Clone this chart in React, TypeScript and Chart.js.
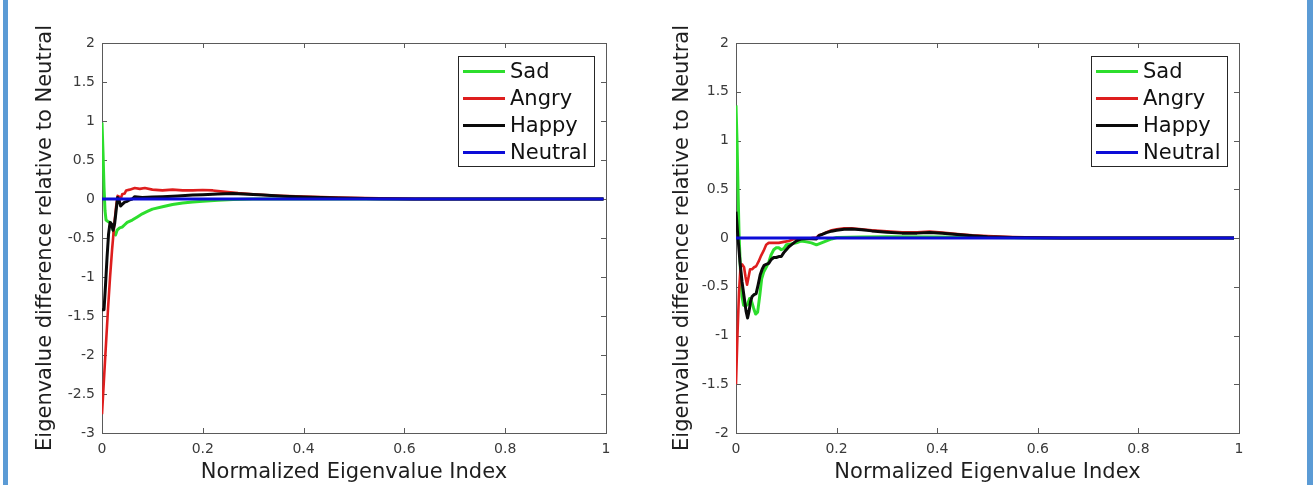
import React, { useEffect, useRef } from 'react';
import { Chart, registerables } from 'chart.js';

Chart.register(...registerables);

// ---------- data ----------
const seriesLabels = ['Sad', 'Angry', 'Happy', 'Neutral'];
const seriesColors = ['rgb(45,222,45)', 'rgb(222,30,30)', '#0a0a0a', 'rgb(12,12,215)'];
const seriesWidths = [3, 2.6, 3, 3.2];

const xAxisTitle = 'Normalized Eigenvalue Index';
const yAxisTitle = 'Eigenvalue difference relative to Neutral';

const leftYRange = [-3, 2];
const rightYRange = [-2, 2];
const xRange = [0, 1];
const xStep = 0.2;
const yStep = 0.5;

const leftSad: [number, number][] = [
  [0, 0.98], [0.002, 0.6], [0.004, 0.15], [0.006, -0.15], [0.008, -0.27], [0.012, -0.29],
  [0.016, -0.3], [0.02, -0.35], [0.024, -0.44], [0.027, -0.46], [0.03, -0.4], [0.035, -0.37],
  [0.04, -0.36], [0.045, -0.33], [0.05, -0.3], [0.06, -0.27], [0.07, -0.23], [0.08, -0.19],
  [0.09, -0.16], [0.1, -0.13], [0.12, -0.1], [0.14, -0.07], [0.16, -0.05], [0.18, -0.04],
  [0.2, -0.03], [0.23, -0.015], [0.26, -0.005], [0.3, 0], [0.5, 0], [0.995, 0],
];
const leftAngry: [number, number][] = [
  [0, -2.76], [0.004, -2.3], [0.008, -1.85], [0.012, -1.4], [0.016, -1.0], [0.02, -0.65],
  [0.024, -0.35], [0.028, -0.1], [0.031, 0.04], [0.034, 0.03], [0.037, 0.0], [0.04, 0.06],
  [0.045, 0.07], [0.048, 0.11], [0.055, 0.12], [0.065, 0.14], [0.075, 0.13], [0.085, 0.14],
  [0.1, 0.12], [0.12, 0.11], [0.14, 0.12], [0.16, 0.11], [0.18, 0.11], [0.2, 0.115],
  [0.22, 0.11], [0.24, 0.095], [0.27, 0.075], [0.3, 0.06], [0.34, 0.045], [0.4, 0.03],
  [0.47, 0.02], [0.55, 0.008], [0.62, 0.002], [0.7, 0], [0.995, 0],
];
const leftHappy: [number, number][] = [
  [0, -1.42], [0.004, -1.42], [0.007, -1.1], [0.01, -0.75], [0.013, -0.45], [0.016, -0.3],
  [0.019, -0.32], [0.022, -0.4], [0.025, -0.32], [0.028, -0.15], [0.031, 0.02], [0.034, -0.02],
  [0.037, -0.09], [0.04, -0.07], [0.045, -0.04], [0.05, -0.03], [0.055, -0.01], [0.06, 0.0],
  [0.065, 0.03], [0.08, 0.02], [0.1, 0.025], [0.12, 0.03], [0.15, 0.04], [0.18, 0.05],
  [0.2, 0.055], [0.23, 0.065], [0.26, 0.07], [0.29, 0.06], [0.32, 0.05], [0.36, 0.035],
  [0.4, 0.025], [0.47, 0.012], [0.55, 0.004], [0.62, 0], [0.995, 0],
];
const leftNeutral: [number, number][] = [[0, 0], [0.995, 0]];

const rightSad: [number, number][] = [
  [0, 1.36], [0.002, 1.0], [0.004, 0.5], [0.006, 0.05], [0.009, -0.35], [0.012, -0.6],
  [0.015, -0.69], [0.019, -0.7], [0.023, -0.68], [0.027, -0.62], [0.031, -0.65], [0.035, -0.72],
  [0.039, -0.78], [0.043, -0.76], [0.047, -0.6], [0.051, -0.42], [0.055, -0.35], [0.06, -0.3],
  [0.065, -0.25], [0.07, -0.17], [0.075, -0.12], [0.08, -0.1], [0.085, -0.1], [0.09, -0.12],
  [0.095, -0.11], [0.1, -0.07], [0.11, -0.06], [0.12, -0.05], [0.13, -0.03], [0.14, -0.04],
  [0.15, -0.05], [0.16, -0.07], [0.17, -0.05], [0.18, -0.03], [0.19, -0.01], [0.2, 0.005],
  [0.25, 0.01], [0.3, 0.012], [0.4, 0.01], [0.5, 0.004], [0.6, 0], [0.99, 0],
];
const rightAngry: [number, number][] = [
  [0, -1.5], [0.003, -0.98], [0.006, -0.55], [0.009, -0.3], [0.012, -0.27], [0.016, -0.3],
  [0.019, -0.4], [0.022, -0.48], [0.025, -0.4], [0.028, -0.32], [0.032, -0.32], [0.036, -0.3],
  [0.04, -0.29], [0.045, -0.24], [0.05, -0.18], [0.055, -0.13], [0.06, -0.07], [0.065, -0.05],
  [0.075, -0.05], [0.085, -0.05], [0.095, -0.04], [0.105, -0.03], [0.115, -0.01], [0.13, -0.005],
  [0.15, 0.0], [0.16, 0.005], [0.165, 0.03], [0.17, 0.035], [0.18, 0.06], [0.19, 0.08],
  [0.2, 0.09], [0.215, 0.1], [0.23, 0.1], [0.25, 0.09], [0.27, 0.08], [0.3, 0.068],
  [0.33, 0.058], [0.36, 0.058], [0.385, 0.065], [0.41, 0.055], [0.44, 0.04], [0.47, 0.028],
  [0.5, 0.02], [0.55, 0.01], [0.6, 0.004], [0.65, 0], [0.99, 0],
];
const rightHappy: [number, number][] = [
  [0, 0.27], [0.004, 0.0], [0.008, -0.25], [0.012, -0.45], [0.016, -0.6], [0.02, -0.75],
  [0.023, -0.82], [0.026, -0.75], [0.029, -0.65], [0.032, -0.6], [0.036, -0.58], [0.04, -0.57],
  [0.044, -0.48], [0.048, -0.38], [0.052, -0.32], [0.056, -0.28], [0.06, -0.27], [0.065, -0.26],
  [0.07, -0.22], [0.075, -0.2], [0.08, -0.2], [0.085, -0.19], [0.09, -0.19], [0.095, -0.15],
  [0.1, -0.12], [0.105, -0.09], [0.11, -0.07], [0.115, -0.05], [0.12, -0.03], [0.13, -0.01],
  [0.14, -0.005], [0.15, -0.008], [0.16, -0.01], [0.165, 0.025], [0.17, 0.035], [0.18, 0.055],
  [0.19, 0.07], [0.2, 0.08], [0.215, 0.09], [0.23, 0.092], [0.25, 0.085], [0.27, 0.073],
  [0.3, 0.06], [0.33, 0.05], [0.36, 0.05], [0.385, 0.057], [0.41, 0.048], [0.44, 0.035],
  [0.47, 0.024], [0.5, 0.013], [0.55, 0.006], [0.6, 0.002], [0.65, 0], [0.99, 0],
];
const rightNeutral: [number, number][] = [[0, 0], [0.99, 0]];

// ---------- styling ----------
const FONT = '"DejaVu Sans", sans-serif';
const AXIS_COLOR = '#5a5a5a';
const TICK_LABEL_COLOR = '#3a3a3a';

const fmt = (v: number) => String(Math.round(v * 10) / 10);

const boxPlugin = {
  id: 'matlabBox',
  beforeDatasetsDraw(chart: any) {
    const { ctx, chartArea: ca } = chart;
    ctx.save();
    ctx.strokeStyle = AXIS_COLOR;
    ctx.lineWidth = 1;
    ctx.strokeRect(Math.round(ca.left) + 0.5, Math.round(ca.top) + 0.5,
      Math.round(ca.right - ca.left), Math.round(ca.bottom - ca.top));
    const tl = 5;
    ctx.beginPath();
    chart.scales.x.ticks.forEach((t: any) => {
      const px = Math.round(chart.scales.x.getPixelForValue(t.value)) + 0.5;
      ctx.moveTo(px, ca.bottom); ctx.lineTo(px, ca.bottom - tl);
      ctx.moveTo(px, ca.top); ctx.lineTo(px, ca.top + tl);
    });
    chart.scales.y.ticks.forEach((t: any) => {
      const py = Math.round(chart.scales.y.getPixelForValue(t.value)) + 0.5;
      ctx.moveTo(ca.left, py); ctx.lineTo(ca.left + tl, py);
      ctx.moveTo(ca.right, py); ctx.lineTo(ca.right - tl, py);
    });
    ctx.stroke();
    ctx.restore();
  },
};

const legendPlugin = {
  id: 'matlabLegend',
  afterDraw(chart: any) {
    const { ctx, chartArea: ca } = chart;
    const w = 136, h = 110;
    const x = Math.round(ca.right - 12 - w);
    const y = Math.round(ca.top + 13);
    ctx.save();
    ctx.fillStyle = '#ffffff';
    ctx.fillRect(x, y, w, h);
    ctx.strokeStyle = '#262626';
    ctx.lineWidth = 1;
    ctx.strokeRect(x + 0.5, y + 0.5, w, h);
    seriesLabels.forEach((label, i) => {
      const ry = y + 15.5 + i * 27;
      ctx.strokeStyle = seriesColors[i];
      ctx.lineWidth = 3;
      ctx.beginPath();
      ctx.moveTo(x + 5, ry);
      ctx.lineTo(x + 47, ry);
      ctx.stroke();
      ctx.fillStyle = '#111111';
      ctx.font = `21px ${FONT}`;
      ctx.textBaseline = 'middle';
      ctx.textAlign = 'left';
      ctx.fillText(label, x + 52, ry + 1);
    });
    ctx.restore();
  },
};

function makeChart(
  canvas: HTMLCanvasElement,
  series: [number, number][][],
  yRange: number[],
  yAxisWidth: number,
  rightPad: number,
  yTitlePad: number,
) {
  const order = [3, 2, 1, 0];
  return new Chart(canvas, {
    type: 'line',
    data: {
      datasets: series.map((s, i) => ({
        label: seriesLabels[i],
        data: s.map(([x, y]) => ({ x, y })),
        borderColor: seriesColors[i],
        backgroundColor: seriesColors[i],
        borderWidth: seriesWidths[i],
        pointRadius: 0,
        tension: 0,
        fill: false,
        order: order[i],
        borderJoinStyle: 'round' as const,
      })),
    },
    options: {
      animation: false,
      responsive: false,
      maintainAspectRatio: false,
      layout: { padding: { left: 0, top: 43, right: rightPad, bottom: 0 } },
      plugins: {
        legend: { display: false },
        tooltip: { enabled: false },
      },
      scales: {
        x: {
          type: 'linear',
          min: xRange[0],
          max: xRange[1],
          grid: { display: false, drawTicks: false },
          border: { display: false },
          ticks: {
            stepSize: xStep,
            padding: 8,
            maxRotation: 0,
            autoSkip: false,
            color: TICK_LABEL_COLOR,
            font: { family: FONT, size: 14 },
            callback: (v: any) => fmt(Number(v)),
          },
          title: {
            display: true,
            text: xAxisTitle,
            color: '#1e1e1e',
            font: { family: FONT, size: 21 },
            padding: { top: 0, bottom: 0 },
          },
          afterFit: (s: any) => { s.height = 52; },
        },
        y: {
          type: 'linear',
          min: yRange[0],
          max: yRange[1],
          grid: { display: false, drawTicks: false },
          border: { display: false },
          ticks: {
            stepSize: yStep,
            padding: 7,
            autoSkip: false,
            color: TICK_LABEL_COLOR,
            font: { family: FONT, size: 14 },
            callback: (v: any) => fmt(Number(v)),
          },
          title: {
            display: true,
            text: yAxisTitle,
            color: '#1e1e1e',
            font: { family: FONT, size: 21 },
            padding: { top: yTitlePad, bottom: 0 },
          },
          afterFit: (s: any) => { s.width = yAxisWidth; },
        },
      },
    } as any,
    plugins: [boxPlugin, legendPlugin],
  });
}

export default function App() {
  const leftRef = useRef<HTMLCanvasElement | null>(null);
  const rightRef = useRef<HTMLCanvasElement | null>(null);

  useEffect(() => {
    const c1 = makeChart(leftRef.current!, [leftSad, leftAngry, leftHappy, leftNeutral], leftYRange, 102, 34, 33);
    const c2 = makeChart(rightRef.current!, [rightSad, rightAngry, rightHappy, rightNeutral], rightYRange, 96, 68, 30);
    return () => { c1.destroy(); c2.destroy(); };
  }, []);

  return (
    <div style={{ position: 'absolute', left: 0, top: 0, width: 1313, height: 485, background: '#ffffff', overflow: 'hidden' }}>
      <div style={{ position: 'absolute', left: 3, top: 0, width: 5, height: 485, background: 'rgb(91,155,213)' }} />
      <div style={{ position: 'absolute', left: 1307, top: 0, width: 6, height: 485, background: 'rgb(91,155,213)' }} />
      <canvas ref={leftRef} width={640} height={485}
        style={{ position: 'absolute', left: 0, top: 0, width: 640, height: 485 }} />
      <canvas ref={rightRef} width={667} height={485}
        style={{ position: 'absolute', left: 640, top: 0, width: 667, height: 485 }} />
    </div>
  );
}
